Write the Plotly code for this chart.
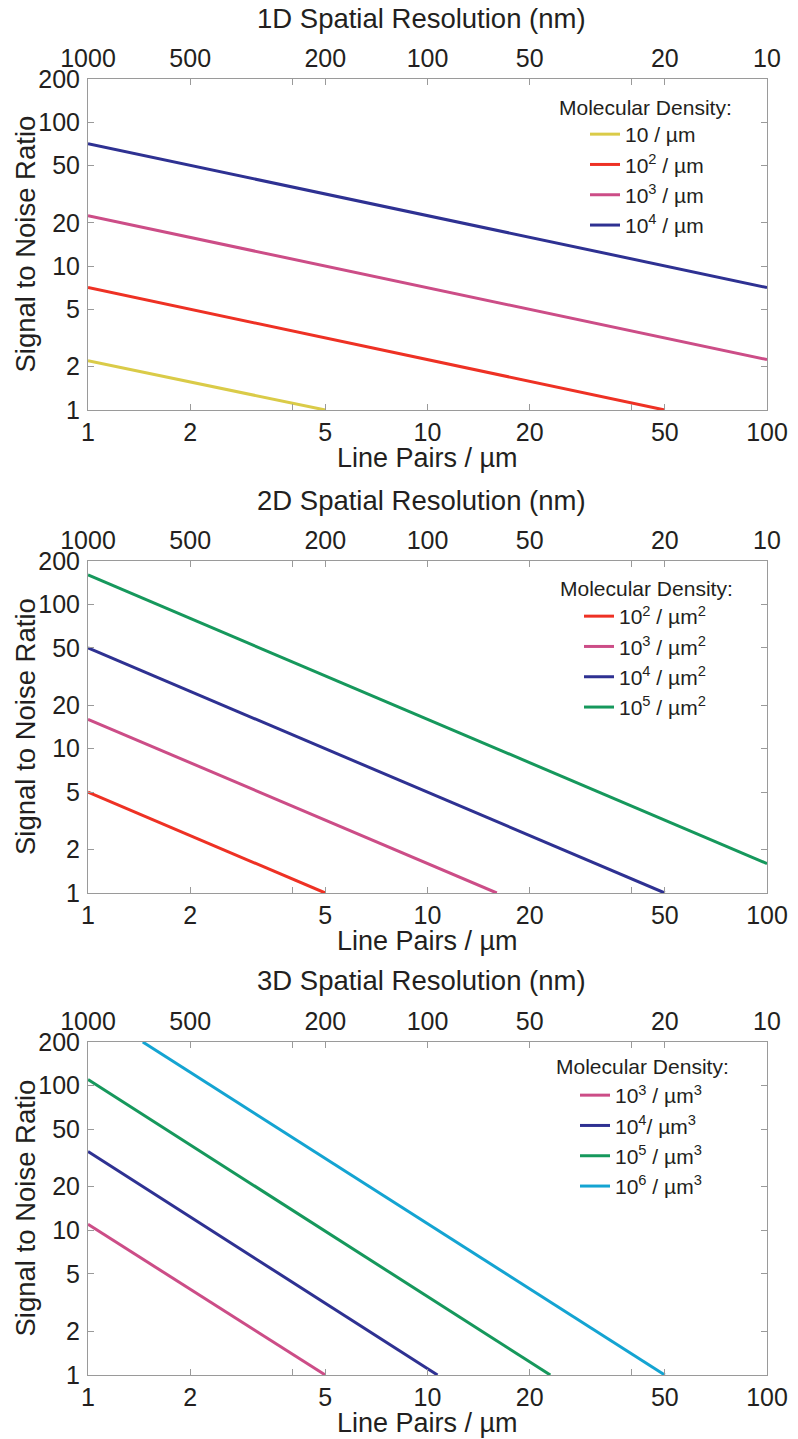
import math
import plotly.graph_objects as go

W, H = 798, 1439

# ---------------- data ----------------
x_tickvals = [1, 2, 4, 5, 10, 20, 40, 50, 100]
x_ticktext = ["1", "2", "", "5", "10", "20", "", "50", "100"]
top_tickvals = [1, 2, 5, 10, 20, 50, 100]
top_ticktext = ["1000", "500", "200", "100", "50", "20", "10"]
y_tickvals = [1, 2, 5, 10, 20, 50, 100, 200]
y_ticktext = ["1", "2", "5", "10", "20", "50", "100", "200"]

panel_titles = ["1D Spatial Resolution (nm)",
                "2D Spatial Resolution (nm)",
                "3D Spatial Resolution (nm)"]
x_title = "Line Pairs / µm"
y_title = "Signal to Noise Ratio"
legend_header = "Molecular Density:"

# 1D panel
d1_names = ["10 / µm", "10<sup>2</sup> / µm", "10<sup>3</sup> / µm", "10<sup>4</sup> / µm"]
d1_colors = ["#dacb48", "#ee3124", "#cc4d87", "#2e3192"]
d1_x = [[1, 5], [1, 50], [1, 100], [1, 100]]
d1_y = [[2.2, 1], [7.1, 1], [22.4, 2.24], [71, 7.1]]

# 2D panel
d2_names = ["10<sup>2</sup> / µm<sup>2</sup>", "10<sup>3</sup> / µm<sup>2</sup>",
            "10<sup>4</sup> / µm<sup>2</sup>", "10<sup>5</sup> / µm<sup>2</sup>"]
d2_colors = ["#ee3124", "#cc4d87", "#2e3192", "#16985c"]
d2_x = [[1, 5], [1, 16], [1, 50], [1, 100]]
d2_y = [[5, 1], [16, 1], [50, 1], [160, 1.6]]

# 3D panel
d3_names = ["10<sup>3</sup> / µm<sup>3</sup>", "10<sup>4</sup>/ µm<sup>3</sup>",
            "10<sup>5</sup> / µm<sup>3</sup>", "10<sup>6</sup> / µm<sup>3</sup>"]
d3_colors = ["#cc4d87", "#2e3192", "#16985c", "#14a4d2"]
d3_x = [[1, 5], [1, 10.7], [1, 23], [1.45, 50]]
d3_y = [[11, 1], [35, 1], [110, 1], [200, 1]]

panels = [(d1_names, d1_colors, d1_x, d1_y),
          (d2_names, d2_colors, d2_x, d2_y),
          (d3_names, d3_colors, d3_x, d3_y)]

# ---------------- layout geometry (pixels) ----------------
PL, PR = 88, 767
panel_px = [(79, 410), (561, 893), (1042, 1375)]
# legend box left/top, header centre x/y
legend_px = [(585, 114, 645, 108), (579, 596, 646, 588), (575, 1075, 642, 1066)]

FONT = "Liberation Sans, Arial, Helvetica, sans-serif"
TXT = "#231f20"
AX = "#9a9a9a"
TICK_SIZE = 25
TITLE_SIZE = 27
LEG_SIZE = 21

def px_x(v):
    return v / W

def px_y(v):
    return 1 - v / H

fig = go.Figure()
layout = dict(
    width=W, height=H,
    margin=dict(l=0, r=0, t=0, b=0, autoexpand=False),
    paper_bgcolor="white", plot_bgcolor="white",
    font=dict(family=FONT, color=TXT, size=TICK_SIZE),
    annotations=[],
    showlegend=True,
)

for i, (names, colors, xs, ys) in enumerate(panels):
    n = i + 1
    xb = f"x{2*n-1}"
    xt = f"x{2*n}"
    yy = f"y{n}"
    leg = "legend" if n == 1 else f"legend{n}"
    for k, (nm, c, xv, yv) in enumerate(zip(names, colors, xs, ys)):
        fig.add_trace(go.Scatter(
            x=xv, y=yv, mode="lines", name=nm,
            line=dict(color=c, width=3),
            xaxis=xb, yaxis=yy, legend=leg,
            legendgroup=f"g{n}{k}",
            hoverinfo="skip",
        ))
    # empty trace so that the top (nm) axis is drawn
    fig.add_trace(go.Scatter(
        x=top_tickvals, y=[None] * len(top_tickvals), mode="lines",
        xaxis=xt, yaxis=yy, showlegend=False, hoverinfo="skip",
    ))
    top, bot = panel_px[i]
    dom_y = [px_y(bot), px_y(top)]
    dom_x = [px_x(PL), px_x(PR)]
    layout[f"xaxis{2*n-1}" if 2*n-1 > 1 else "xaxis"] = dict(
        type="log", range=[0, 2], domain=dom_x, anchor=yy,
        tickvals=x_tickvals, ticktext=x_ticktext,
        ticks="inside", ticklen=6, tickcolor=AX, tickwidth=1,
        showline=True, linecolor=AX, linewidth=1, mirror="ticks",
        showgrid=False, zeroline=False,
        tickfont=dict(size=TICK_SIZE, family=FONT, color=TXT),
    )
    layout[f"xaxis{2*n}"] = dict(
        type="log", range=[0, 2], domain=dom_x, anchor=yy,
        overlaying=xb, side="top",
        tickvals=top_tickvals, ticktext=top_ticktext,
        ticks="", showline=False, showgrid=False, zeroline=False,
        ticklabelstandoff=6,
        tickfont=dict(size=TICK_SIZE, family=FONT, color=TXT),
    )
    layout[f"yaxis{n}" if n > 1 else "yaxis"] = dict(
        type="log", range=[0, math.log10(200)], domain=dom_y, anchor=xb,
        tickvals=y_tickvals, ticktext=y_ticktext,
        ticks="inside", ticklen=6, tickcolor=AX, tickwidth=1,
        showline=True, linecolor=AX, linewidth=1, mirror="ticks",
        showgrid=False, zeroline=False, ticklabelstandoff=2,
        tickfont=dict(size=TICK_SIZE, family=FONT, color=TXT),
    )
    # titles
    cx = (PL + PR) / 2
    layout["annotations"].append(dict(
        text=panel_titles[i], xref="paper", yref="paper",
        x=px_x(cx - 6), y=px_y(top - 61), xanchor="center", yanchor="middle",
        showarrow=False, font=dict(size=27.5, family=FONT, color=TXT)))
    layout["annotations"].append(dict(
        text=x_title, xref="paper", yref="paper",
        x=px_x(cx), y=px_y(bot + 48), xanchor="center", yanchor="middle",
        showarrow=False, font=dict(size=TITLE_SIZE, family=FONT, color=TXT)))
    layout["annotations"].append(dict(
        text=y_title, xref="paper", yref="paper", textangle=-90,
        x=px_x(25), y=px_y((top + bot) / 2), xanchor="center", yanchor="middle",
        showarrow=False, font=dict(size=27.5, family=FONT, color=TXT)))
    # legend
    lx, ly, hx, hy = legend_px[i]
    layout["annotations"].append(dict(
        text=legend_header, xref="paper", yref="paper",
        x=px_x(hx), y=px_y(hy), xanchor="center", yanchor="middle",
        showarrow=False, font=dict(size=LEG_SIZE, family=FONT, color=TXT)))
    layout[leg] = dict(
        x=px_x(lx), y=px_y(ly), xanchor="left", yanchor="top",
        xref="paper", yref="paper",
        bgcolor="rgba(0,0,0,0)", borderwidth=0,
        font=dict(size=LEG_SIZE, family=FONT, color=TXT),
        itemwidth=30, tracegroupgap=0,
    )

fig.update_layout(**layout)
fig.write_html("out.html")
